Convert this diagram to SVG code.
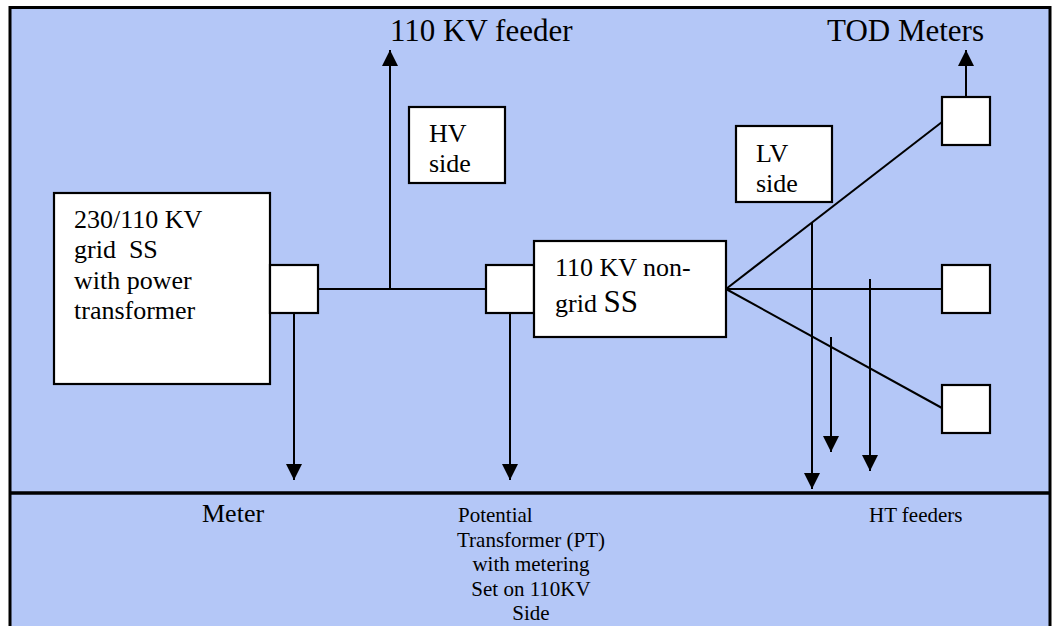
<svg xmlns="http://www.w3.org/2000/svg" width="1054" height="626" viewBox="0 0 1054 626">
<defs>
<style>
.box{fill:#fff;stroke:#000;stroke-width:2.2}
.ln{fill:none;stroke:#000;stroke-width:2}
.t{font-family:"Liberation Serif","Times New Roman",serif;fill:#000}
.t26{font-size:26px}
.t31{font-size:31px}
.t21{font-size:21px}
</style>
<marker id="ah" markerUnits="userSpaceOnUse" markerWidth="16" markerHeight="16" viewBox="0 0 15 15" refX="15" refY="7.5" orient="auto">
<path d="M0,0 L15,7.5 L0,15 z" fill="#000"/>
</marker>
</defs>
<rect x="0" y="0" width="1054" height="626" fill="#fff"/>
<rect id="frame" x="10" y="7.5" width="1040" height="700" fill="#B4C7F7" stroke="#000" stroke-width="3"/>
<line x1="10" y1="493" x2="1050" y2="493" stroke="#000" stroke-width="3.5"/>

<g id="connectors">
<line class="ln" x1="318" y1="289" x2="486" y2="289"/>
<line class="ln" x1="390" y1="289" x2="390" y2="50" marker-end="url(#ah)"/>
<line class="ln" x1="294" y1="313" x2="294" y2="480" marker-end="url(#ah)"/>
<line class="ln" x1="510" y1="313" x2="510" y2="480" marker-end="url(#ah)"/>
<line class="ln" x1="726" y1="289" x2="942" y2="122"/>
<line class="ln" x1="726" y1="289" x2="942" y2="289"/>
<line class="ln" x1="726" y1="289" x2="942" y2="408"/>
<line class="ln" x1="966" y1="97" x2="966" y2="50" marker-end="url(#ah)"/>
<line class="ln" x1="812" y1="222" x2="812" y2="489" marker-end="url(#ah)"/>
<line class="ln" x1="831" y1="337" x2="831" y2="452" marker-end="url(#ah)"/>
<line class="ln" x1="870" y1="279" x2="870" y2="471" marker-end="url(#ah)"/>
</g>

<g id="grid-ss">
<rect class="box" x="54" y="193" width="216" height="191"/>
<text class="t t26" x="74" y="228">230/110 KV</text>
<text class="t t26" x="74" y="258" xml:space="preserve">grid  SS</text>
<text class="t t26" x="74" y="289">with power</text>
<text class="t t26" x="74" y="319">transformer</text>
</g>
<g id="meter-box-1"><rect class="box" x="270" y="265" width="48" height="48"/></g>
<g id="meter-box-2"><rect class="box" x="486" y="265" width="48" height="48"/></g>
<g id="nongrid-ss">
<rect class="box" x="534" y="241" width="192" height="96"/>
<text class="t t26" x="555" y="276">110 KV non-</text>
<text class="t t26" x="555" y="312">grid <tspan style="font-size:31px">SS</tspan></text>
</g>
<g id="hv-side">
<rect class="box" x="409" y="107" width="96" height="76"/>
<text class="t t26" x="429" y="142">HV</text>
<text class="t t26" x="429" y="172">side</text>
</g>
<g id="lv-side">
<rect class="box" x="736" y="126" width="96" height="76"/>
<text class="t t26" x="756" y="162">LV</text>
<text class="t t26" x="756" y="192">side</text>
</g>
<g id="tod-1"><rect class="box" x="942" y="97" width="48" height="48"/></g>
<g id="tod-2"><rect class="box" x="942" y="265" width="48" height="48"/></g>
<g id="tod-3"><rect class="box" x="942" y="385" width="48" height="48"/></g>

<g id="labels">
<text class="t t31" x="390" y="41">110 KV feeder</text>
<text class="t t31" x="827" y="41">TOD Meters</text>
<text class="t t26" x="202" y="522">Meter</text>
<text class="t t21" x="458" y="522">Potential</text>
<text class="t t21" x="531" y="547" text-anchor="middle">Transformer (PT)</text>
<text class="t t21" x="531" y="571" text-anchor="middle">with metering</text>
<text class="t t21" x="531" y="596" text-anchor="middle">Set on 110KV</text>
<text class="t t21" x="531" y="620" text-anchor="middle">Side</text>
<text class="t t21" x="869" y="522">HT feeders</text>
</g>
</svg>
